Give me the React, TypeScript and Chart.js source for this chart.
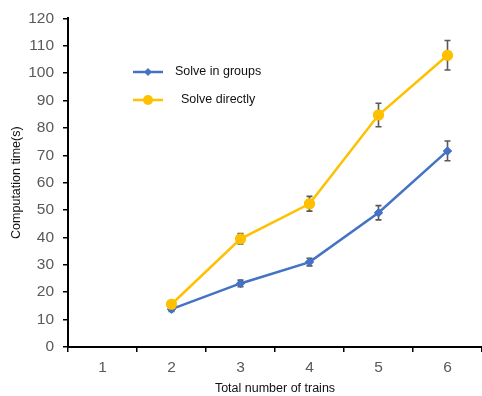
import React, { useEffect, useRef } from "react";
import { Chart, registerables } from "chart.js";

Chart.register(...registerables);

const categories = ["1", "2", "3", "4", "5", "6"];
const groupsValues = [null, 13.8, 23.2, 31.0, 49.0, 71.6];
const groupsErrors = [0, 0.8, 1.2, 1.4, 2.6, 3.6];
const directValues = [null, 15.6, 39.5, 52.3, 84.7, 106.5];
const directErrors = [0, 0.8, 1.9, 2.7, 4.3, 5.4];
const yTicks = [0, 10, 20, 30, 40, 50, 60, 70, 80, 90, 100, 110, 120];

const BLUE = "#4472C4";
const YELLOW = "#FFC000";
const GREY = "#595959";
const FONT = "'Liberation Sans', Arial, sans-serif";

const errorBars = {
  id: "errorBars",
  afterDatasetsDraw(chart: any) {
    const ctx = chart.ctx;
    const y = chart.scales.y;
    const errs = [groupsErrors, directErrors];
    ctx.save();
    ctx.strokeStyle = GREY;
    ctx.lineWidth = 1.6;
    chart.data.datasets.forEach((ds: any, di: number) => {
      const meta = chart.getDatasetMeta(di);
      meta.data.forEach((pt: any, i: number) => {
        const v = ds.data[i];
        const e = errs[di][i];
        if (v == null || !e) return;
        const x = pt.x;
        const top = y.getPixelForValue(v + e);
        const bot = y.getPixelForValue(v - e);
        ctx.beginPath();
        ctx.moveTo(x, top);
        ctx.lineTo(x, bot);
        ctx.moveTo(x - 3, top);
        ctx.lineTo(x + 3, top);
        ctx.moveTo(x - 3, bot);
        ctx.lineTo(x + 3, bot);
        ctx.stroke();
      });
    });
    // redraw markers over the bars
    chart.data.datasets.forEach((_: any, di: number) => {
      const meta = chart.getDatasetMeta(di);
      meta.data.forEach((pt: any) => pt.draw(ctx, chart.chartArea));
    });
    ctx.restore();
  },
};

const innerLegend = {
  id: "innerLegend",
  afterDraw(chart: any) {
    const ctx = chart.ctx;
    ctx.save();
    ctx.lineWidth = 2.5;
    // Solve in groups
    ctx.strokeStyle = BLUE;
    ctx.beginPath();
    ctx.moveTo(133, 72);
    ctx.lineTo(163, 72);
    ctx.stroke();
    ctx.fillStyle = BLUE;
    ctx.beginPath();
    ctx.moveTo(148, 68);
    ctx.lineTo(152, 72);
    ctx.lineTo(148, 76);
    ctx.lineTo(144, 72);
    ctx.closePath();
    ctx.fill();
    // Solve directly
    ctx.strokeStyle = YELLOW;
    ctx.beginPath();
    ctx.moveTo(133, 100);
    ctx.lineTo(163, 100);
    ctx.stroke();
    ctx.fillStyle = YELLOW;
    ctx.beginPath();
    ctx.arc(148, 100, 5, 0, Math.PI * 2);
    ctx.fill();
    ctx.fillStyle = "#111";
    ctx.font = `12.5px ${FONT}`;
    ctx.textBaseline = "middle";
    ctx.textAlign = "left";
    ctx.fillText("Solve in groups", 175, 72);
    ctx.fillText("Solve directly", 181, 100);
    ctx.restore();
  },
};

export default function App() {
  const ref = useRef<HTMLCanvasElement>(null);
  useEffect(() => {
    document.body.style.margin = "0";
    const chart = new Chart(ref.current!, {
      type: "line",
      data: {
        labels: categories,
        datasets: [
          {
            label: "Solve in groups",
            data: groupsValues,
            borderColor: BLUE,
            backgroundColor: BLUE,
            borderWidth: 2.5,
            pointStyle: "rectRot",
            pointRadius: 4.5,
            pointBorderWidth: 0,
            clip: false,
          },
          {
            label: "Solve directly",
            data: directValues,
            borderColor: YELLOW,
            backgroundColor: YELLOW,
            borderWidth: 2.5,
            pointStyle: "circle",
            pointRadius: 5.5,
            pointBorderWidth: 0,
            clip: false,
          },
        ],
      },
      options: {
        animation: false,
        responsive: false,
        layout: { autoPadding: false, padding: { top: 16, right: 0, bottom: 0, left: 0 } },
        plugins: { legend: { display: false }, tooltip: { enabled: false } },
        scales: {
          x: {
            offset: true,
            grid: {
              offset: true,
              drawOnChartArea: false,
              drawTicks: true,
              tickLength: 5,
              color: "#000",
              lineWidth: 1.5,
            },
            border: { color: "#000", width: 2 },
            ticks: { color: GREY, font: { family: FONT, size: 15.5 }, padding: 6 },
            title: {
              display: true,
              text: "Total number of trains",
              color: "#111",
              font: { family: FONT, size: 12.5 },
              padding: { top: 0, bottom: 0 },
            },
            afterFit(scale: any) {
              scale.height = 49;
            },
          },
          y: {
            min: 0,
            max: 120,
            afterBuildTicks(scale: any) {
              scale.ticks = yTicks.map((v) => ({ value: v }));
            },
            grid: {
              drawOnChartArea: false,
              drawTicks: true,
              tickLength: 5,
              color: "#000",
              lineWidth: 1.5,
            },
            border: { color: "#000", width: 2 },
            ticks: { color: GREY, font: { family: FONT, size: 15.5 }, padding: 9 },
            title: {
              display: true,
              text: "Computation time(s)",
              color: "#111",
              font: { family: FONT, size: 12.5 },
              padding: { top: 9, bottom: 0 },
            },
            afterFit(scale: any) {
              scale.width = 68;
            },
          },
        },
      },
      plugins: [errorBars, innerLegend],
    });
    return () => chart.destroy();
  }, []);
  return (
    <div style={{ width: 482, height: 396 }}>
      <canvas ref={ref} width={482} height={396} />
    </div>
  );
}
